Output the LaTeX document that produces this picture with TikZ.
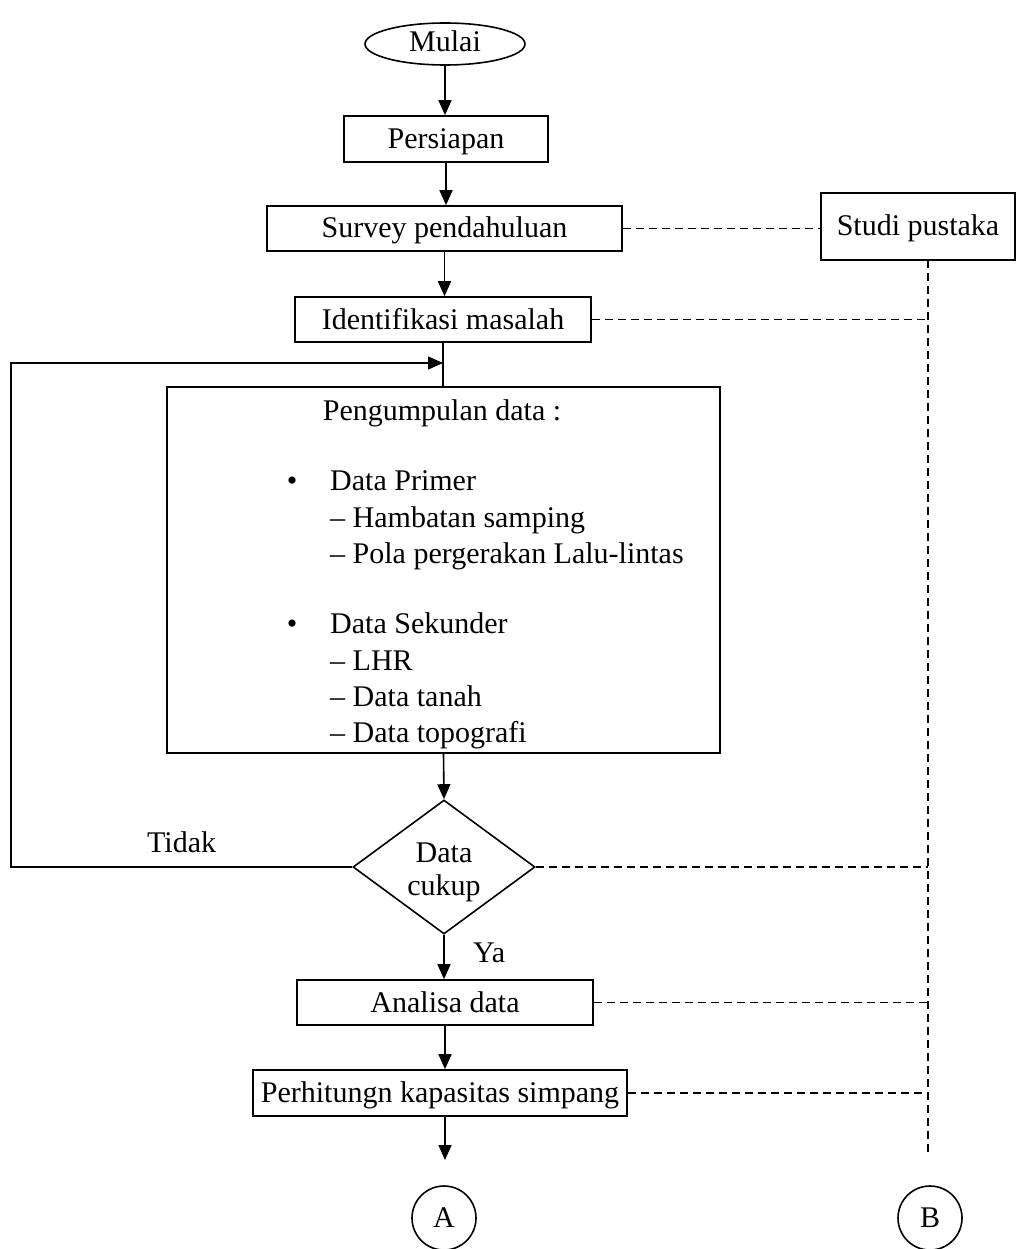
\documentclass[tikz,border=0pt]{standalone}
\usepackage{fontspec}
\setmainfont{Liberation Serif}
\usetikzlibrary{shapes.geometric,arrows.meta}
\newcommand\fsz{\fontsize{30}{33}\selectfont}
\tikzset{
  box/.style={draw, line width=1.6pt, rectangle, inner sep=0pt, font=\fsz, text height=25pt, text depth=6pt},
  txt/.style={inner sep=0pt, font=\fsz},
  flow/.style={line width=1.6pt, -{Triangle[length=15pt,width=13pt]}},
  plain/.style={line width=1.6pt},
  dashlink/.style={line width=1.6pt, dash pattern=on 8pt off 5pt},
  conn/.style={draw, circle, line width=1.6pt, minimum size=64pt, inner sep=0pt, font=\fsz}
}
\begin{document}
\begin{tikzpicture}[x=1pt,y=-1pt]
\useasboundingbox (0,0) rectangle (1016,1249);

\node[draw, line width=1.6pt, ellipse, inner sep=0pt, font=\fsz, text height=22pt, text depth=6pt, minimum width=160pt, minimum height=42pt] (mulai) at (445,44) {Mulai};
\node[box, minimum width=204pt, minimum height=46pt] (persiapan) at (446,139) {Persiapan};
\node[box, minimum width=355pt, minimum height=45pt] (survey) at (444.5,228.5) {Survey pendahuluan};
\node[box, minimum width=194pt, minimum height=67pt] (studi) at (918,226.5) {Studi pustaka};
\node[box, minimum width=296pt, minimum height=45pt] (identifikasi) at (443,319.5) {Identifikasi masalah};
\node[draw, line width=1.6pt, minimum width=553pt, minimum height=366pt] (pengumpulan) at (443.5,570) {};
\node[txt, anchor=base] (t0) at (442,420) {Pengumpulan data :};
\node[txt, anchor=base] (b1) at (292,490) {•};
\node[txt, anchor=base west] (t1) at (330,490) {Data Primer};
\node[txt, anchor=base west] (t2) at (330,527) {– Hambatan samping};
\node[txt, anchor=base west] (t3) at (330,563) {– Pola pergerakan Lalu-lintas};
\node[txt, anchor=base] (b2) at (292,633) {•};
\node[txt, anchor=base west] (t4) at (330,633) {Data Sekunder};
\node[txt, anchor=base west] (t5) at (330,670) {– LHR};
\node[txt, anchor=base west] (t6) at (330,706) {– Data tanah};
\node[txt, anchor=base west] (t7) at (330,742) {– Data topografi};
\node[draw, line width=1.6pt, diamond, aspect=1.36, inner sep=0pt, minimum width=182pt, minimum height=134pt] (cukup) at (444,867) {};
\node[txt, anchor=base] (c1) at (444,862) {Data};
\node[txt, anchor=base] (c2) at (444,895) {cukup};
\node[txt, anchor=base west] (tidak) at (147,852) {Tidak};
\node[txt, anchor=base west] (ya) at (473,962) {Ya};
\node[box, minimum width=296pt, minimum height=45pt] (analisa) at (445,1002.5) {Analisa data};
\node[box, minimum width=374pt, minimum height=46pt] (hitung) at (440,1093) {Perhitungn kapasitas simpang};
\node[conn] (A) at (444,1218) {A};
\node[conn] (B) at (930,1218) {B};

\coordinate (dtop) at (928,260);
\coordinate (dbot) at (928,1155);
\coordinate (aend) at (445,1160);
\coordinate (lcorner) at (11,867);
\coordinate (ljoin) at (443,363);

% main flow
\draw[flow] (mulai.south) -- (mulai.south |- persiapan.north);
\draw[flow] (persiapan.south) -- (persiapan.south |- survey.north);
\draw[flow] (survey.south) -- (survey.south |- identifikasi.north);
\draw[plain] (identifikasi.south) -- (identifikasi.south |- pengumpulan.north);
\draw[flow] (pengumpulan.south) -- (cukup.north);
\draw[flow] (cukup.south) -- (cukup.south |- analisa.north);
\draw[flow] (analisa.south) -- (analisa.south |- hitung.north);
\draw[flow] (hitung.south -| aend) -- (aend);

% loop back
\draw[flow] (cukup.west) -- (lcorner) |- (ljoin);

% dashed links to Studi pustaka
\draw[dashlink] (survey.east) -- (survey.east -| studi.west);
\draw[dashlink] (dtop) -- (dbot);
\draw[dashlink] (identifikasi.east) -- (identifikasi.east -| dtop);
\draw[dashlink] (cukup.east) -- (cukup.east -| dtop);
\draw[dashlink] (analisa.east) -- (analisa.east -| dtop);
\draw[dashlink] (hitung.east) -- (hitung.east -| dtop);
\end{tikzpicture}
\end{document}
